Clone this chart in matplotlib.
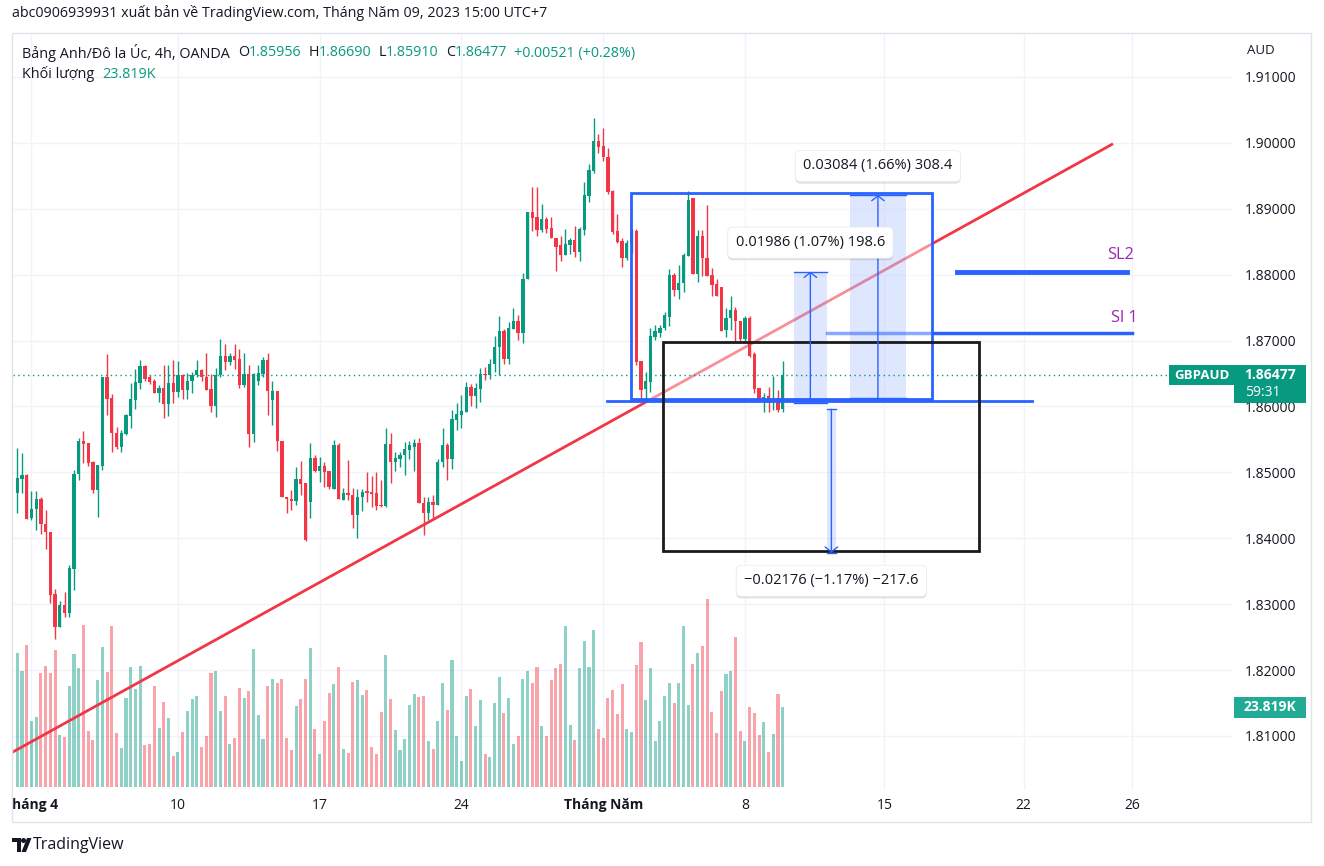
import numpy as np
import matplotlib.pyplot as plt
from matplotlib.patches import Rectangle, Polygon, Ellipse
from matplotlib.transforms import blended_transform_factory, Bbox, TransformedBbox
import matplotlib.patheffects as pe

plt.rcParams['font.family'] = ['Open Sans', 'DejaVu Sans']

# GBPAUD 4h candles
opens = [1.8469, 1.8490, 1.8496, 1.8430, 1.8444, 1.8460, 1.8422, 1.8410, 1.8315, 1.8266,
         1.8298, 1.8287, 1.8354, 1.8497, 1.8548, 1.8544, 1.8516, 1.8473, 1.8510, 1.8645,
         1.8613, 1.8560, 1.8539, 1.8558, 1.8586, 1.8610, 1.8636, 1.8661, 1.8644, 1.8639,
         1.8621, 1.8628, 1.8604, 1.8636, 1.8622, 1.8647, 1.8625, 1.8638, 1.8647, 1.8655,
         1.8645, 1.8627, 1.8601, 1.8647, 1.8676, 1.8667, 1.8677, 1.8672, 1.8633, 1.8650,
         1.8558, 1.8638, 1.8649, 1.8671, 1.8610, 1.8623, 1.8548, 1.8463, 1.8460, 1.8457,
         1.8490, 1.8484, 1.8455, 1.8522, 1.8502, 1.8510, 1.8502, 1.8475, 1.8541, 1.8458,
         1.8468, 1.8465, 1.8435, 1.8462, 1.8471, 1.8470, 1.8468, 1.8450, 1.8449, 1.8543,
         1.8516, 1.8520, 1.8527, 1.8534, 1.8539, 1.8545, 1.8454, 1.8439, 1.8455, 1.8451,
         1.8515, 1.8541, 1.8520, 1.8580, 1.8587, 1.8592, 1.8629, 1.8616, 1.8626, 1.8649,
         1.8647, 1.8664, 1.8690, 1.8714, 1.8672, 1.8718, 1.8729, 1.8711, 1.8793, 1.8895,
         1.8888, 1.8868, 1.8884, 1.8871, 1.8856, 1.8845, 1.8830, 1.8845, 1.8853, 1.8834,
         1.8868, 1.8920, 1.8958, 1.9003, 1.8995, 1.8979, 1.8927, 1.8866, 1.8851, 1.8826,
         1.8848, 1.8866, 1.8669, 1.8626, 1.8637, 1.8706, 1.8711, 1.8719, 1.8736, 1.8800,
         1.8777, 1.8787, 1.8829, 1.8916, 1.8801, 1.8858, 1.8826, 1.8800, 1.8786, 1.8782,
         1.8716, 1.8734, 1.8746, 1.8729, 1.8702, 1.8735, 1.8679, 1.8628, 1.8610, 1.8616,
         1.8610, 1.8613, 1.85956]
highs = [1.8537, 1.8529, 1.8498, 1.8471, 1.8471, 1.8462, 1.8443, 1.8410, 1.8323, 1.8305,
         1.8318, 1.8360, 1.8504, 1.8552, 1.8563, 1.8544, 1.8517, 1.8511, 1.8645, 1.8680,
         1.8619, 1.8569, 1.8564, 1.8589, 1.8636, 1.8657, 1.8670, 1.8663, 1.8647, 1.8641,
         1.8633, 1.8663, 1.8663, 1.8670, 1.8669, 1.8650, 1.8651, 1.8652, 1.8670, 1.8657,
         1.8681, 1.8649, 1.8659, 1.8703, 1.8695, 1.8681, 1.8695, 1.8687, 1.8681, 1.8663,
         1.8651, 1.8663, 1.8675, 1.8681, 1.8639, 1.8623, 1.8548, 1.8463, 1.8473, 1.8508,
         1.8517, 1.8484, 1.8545, 1.8527, 1.8523, 1.8515, 1.8502, 1.8549, 1.8544, 1.8476,
         1.8519, 1.8476, 1.8474, 1.8474, 1.8501, 1.8494, 1.8501, 1.8488, 1.8567, 1.8560,
         1.8531, 1.8531, 1.8546, 1.8547, 1.8551, 1.8552, 1.8463, 1.8463, 1.8466, 1.8521,
         1.8568, 1.8544, 1.8594, 1.8606, 1.8618, 1.8637, 1.8634, 1.8636, 1.8658, 1.8660,
         1.8672, 1.8707, 1.8737, 1.8718, 1.8728, 1.8750, 1.8739, 1.8802, 1.8895, 1.8933,
         1.8933, 1.8907, 1.8887, 1.8887, 1.8856, 1.8858, 1.8870, 1.8855, 1.8874, 1.8872,
         1.8941, 1.8968, 1.9037, 1.9014, 1.9022, 1.8992, 1.8928, 1.8892, 1.8856, 1.8853,
         1.8870, 1.8870, 1.8669, 1.8653, 1.8719, 1.8724, 1.8724, 1.8744, 1.8809, 1.8802,
         1.8815, 1.8833, 1.8927, 1.8917, 1.8868, 1.8868, 1.8906, 1.8810, 1.8794, 1.8782,
         1.8749, 1.8767, 1.8751, 1.8729, 1.8738, 1.8738, 1.8682, 1.8628, 1.8620, 1.8630,
         1.8646, 1.8625, 1.86690]
lows = [1.8439, 1.8469, 1.8429, 1.8428, 1.8412, 1.8407, 1.8384, 1.8302, 1.8247, 1.8266,
        1.8281, 1.8280, 1.8321, 1.8489, 1.8514, 1.8510, 1.8469, 1.8433, 1.8504, 1.8587,
        1.8531, 1.8535, 1.8531, 1.8557, 1.8567, 1.8596, 1.8627, 1.8639, 1.8634, 1.8621,
        1.8607, 1.8583, 1.8585, 1.8605, 1.8615, 1.8611, 1.8612, 1.8620, 1.8645, 1.8638,
        1.8625, 1.8592, 1.8584, 1.8645, 1.8655, 1.8663, 1.8657, 1.8628, 1.8630, 1.8538,
        1.8546, 1.8633, 1.8645, 1.8587, 1.8572, 1.8533, 1.8462, 1.8438, 1.8443, 1.8450,
        1.8465, 1.8396, 1.8430, 1.8500, 1.8486, 1.8478, 1.8475, 1.8474, 1.8459, 1.8458,
        1.8458, 1.8416, 1.8401, 1.8442, 1.8455, 1.8448, 1.8443, 1.8448, 1.8448, 1.8484,
        1.8502, 1.8508, 1.8496, 1.8520, 1.8502, 1.8453, 1.8405, 1.8428, 1.8430, 1.8451,
        1.8508, 1.8489, 1.8505, 1.8564, 1.8568, 1.8592, 1.8600, 1.8597, 1.8607, 1.8640,
        1.8641, 1.8652, 1.8648, 1.8665, 1.8664, 1.8718, 1.8701, 1.8697, 1.8793, 1.8866,
        1.8858, 1.8865, 1.8863, 1.8855, 1.8806, 1.8820, 1.8830, 1.8832, 1.8827, 1.8820,
        1.8860, 1.8911, 1.8954, 1.8985, 1.8973, 1.8923, 1.8862, 1.8848, 1.8811, 1.8822,
        1.8833, 1.8663, 1.8612, 1.8612, 1.8622, 1.8701, 1.8706, 1.8716, 1.8722, 1.8767,
        1.8763, 1.8774, 1.8829, 1.8801, 1.8789, 1.8798, 1.8798, 1.8767, 1.8767, 1.8715,
        1.8706, 1.8716, 1.8700, 1.8700, 1.8700, 1.8675, 1.8620, 1.8611, 1.8592, 1.8592,
        1.8594, 1.8592, 1.85910]
closes = [1.8491, 1.8496, 1.8429, 1.8444, 1.8460, 1.8421, 1.8409, 1.8314, 1.8266, 1.8298,
          1.8287, 1.8355, 1.8498, 1.8548, 1.8543, 1.8514, 1.8473, 1.8511, 1.8645, 1.8611,
          1.8559, 1.8539, 1.8560, 1.8587, 1.8611, 1.8637, 1.8661, 1.8642, 1.8637, 1.8621,
          1.8628, 1.8604, 1.8636, 1.8622, 1.8647, 1.8625, 1.8639, 1.8648, 1.8655, 1.8644,
          1.8625, 1.8601, 1.8648, 1.8676, 1.8667, 1.8677, 1.8671, 1.8633, 1.8650, 1.8558,
          1.8650, 1.8651, 1.8671, 1.8623, 1.8623, 1.8547, 1.8462, 1.8459, 1.8457, 1.8490,
          1.8482, 1.8397, 1.8522, 1.8502, 1.8510, 1.8501, 1.8478, 1.8541, 1.8459, 1.8468,
          1.8465, 1.8435, 1.8463, 1.8470, 1.8468, 1.8467, 1.8449, 1.8449, 1.8543, 1.8516,
          1.8522, 1.8527, 1.8536, 1.8541, 1.8545, 1.8453, 1.8439, 1.8455, 1.8451, 1.8515,
          1.8541, 1.8520, 1.8581, 1.8588, 1.8593, 1.8629, 1.8616, 1.8628, 1.8649, 1.8647,
          1.8665, 1.8690, 1.8714, 1.8672, 1.8719, 1.8729, 1.8711, 1.8794, 1.8895, 1.8886,
          1.8868, 1.8884, 1.8870, 1.8855, 1.8842, 1.8830, 1.8846, 1.8853, 1.8834, 1.8869,
          1.8921, 1.8959, 1.9003, 1.8994, 1.8979, 1.8926, 1.8865, 1.8850, 1.8826, 1.8848,
          1.8866, 1.8668, 1.8625, 1.8638, 1.8707, 1.8714, 1.8719, 1.8739, 1.8800, 1.8777,
          1.8788, 1.8830, 1.8913, 1.8801, 1.8858, 1.8825, 1.8798, 1.8784, 1.8767, 1.8715,
          1.8734, 1.8746, 1.8729, 1.8702, 1.8735, 1.8677, 1.8626, 1.8611, 1.8615, 1.8606,
          1.8613, 1.8595, 1.86477]
# volume in thousands
volumes = [40.1, 34.7, 42.4, 19.6, 20.8, 34.0, 36.1, 34.0, 40.9, 15.4,
           14.8, 30.1, 39.7, 35.5, 48.4, 16.6, 13.9, 31.9, 41.8, 34.4,
           48.1, 16.0, 11.8, 26.5, 35.8, 29.2, 36.1, 12.7, 13.0, 30.1,
           17.5, 25.3, 20.5, 9.4, 10.6, 16.3, 22.6, 26.2, 27.1, 12.1,
           15.1, 34.0, 34.6, 22.6, 27.1, 13.0, 14.5, 29.5, 26.5, 28.6,
           41.2, 21.4, 14.2, 30.1, 32.2, 31.0, 32.2, 14.5, 11.2, 24.1,
           26.2, 32.2, 41.5, 17.2, 10.0, 19.6, 28.0, 30.7, 35.8, 11.5,
           10.3, 31.3, 31.9, 27.4, 28.9, 12.1, 10.0, 22.3, 39.4, 26.2,
           16.9, 11.2, 14.2, 24.4, 27.7, 26.8, 27.1, 13.6, 11.5, 19.6,
           31.0, 22.9, 37.9, 15.1, 7.9, 27.1, 29.2, 18.1, 25.9, 10.0,
           9.1, 25.0, 32.8, 22.0, 26.5, 13.0, 15.1, 32.2, 34.6, 31.0,
           35.8, 18.1, 15.1, 31.9, 35.5, 36.7, 48.1, 18.4, 13.9, 35.5,
           43.6, 35.8, 46.9, 17.2, 14.5, 26.5, 28.9, 21.7, 30.7, 17.2,
           16.3, 36.4, 43.3, 25.9, 35.5, 13.6, 19.6, 27.1, 31.0, 25.0,
           31.0, 48.1, 24.4, 36.7, 40.0, 42.1, 56.2, 22.3, 16.0, 28.6,
           33.7, 34.6, 44.8, 16.6, 13.6, 23.8, 22.0, 15.4, 19.4, 10.6,
           15.8, 27.7, 23.819]

price_ticks = [1.81, 1.82, 1.83, 1.84, 1.85, 1.86, 1.87, 1.88, 1.89, 1.90, 1.91]
date_tick_pos = [3, 34, 64, 94, 124, 154, 183.5, 213, 236]
date_tick_labels = ['Tháng 4', '10', '17', '24', 'Tháng Năm', '8', '15', '22', '26']

# drawings (bar index, price)
trend_x = [-1.12, 231.9]
trend_y = [1.8075, 1.89986]
blue_box = (129.9, 193.6, 1.86109, 1.89244)
black_box = (136.7, 203.6, 1.83807, 1.86983)
base_line = (124.8, 214.7, 1.8608)
sl2_line = (198.8, 234.8, 1.8804)
sl1_line = (171.3, 235.9, 1.8711)
measures = [(164.4, 171.3, 1.86060, 1.88046),
            (176.2, 188.1, 1.86125, 1.89209),
            (171.3, 173.3, 1.85956, 1.83780)]

GREEN = '#089981'
RED = '#f23645'
BLUE = '#2962ff'
TXT = '#131722'

W, H = 1324, 866
fig = plt.figure(figsize=(W / 100, H / 100), dpi=100)
fig.patch.set_facecolor('white')

def P(x, y):
    return (x / W, 1 - y / H)

pl, pr, pt, pb = 13, 1233, 34, 790
rect = [pl / W, 1 - pb / H, (pr - pl) / W, (pb - pt) / H]
ax_vol = fig.add_axes(rect)
ax = fig.add_axes(rect)
ax.patch.set_alpha(0)

xlim = (-0.91, 257.3)
ylim = (1.80180, 1.91652)
vlim = (-0.9, 225.1)
for a in (ax, ax_vol):
    a.set_xlim(*xlim)
    for s in a.spines.values():
        s.set_visible(False)
ax.set_ylim(*ylim)
ax_vol.set_ylim(*vlim)
ax_vol.set_xticks([])
ax_vol.set_yticks([])

# grid behind the volume bars
ytrans = blended_transform_factory(ax_vol.transAxes, ax.transData)
for p in price_ticks:
    ax_vol.plot([0, 1], [p, p], transform=ytrans, color='#f0f3fa', lw=1, zorder=0)
for xp in date_tick_pos:
    ax_vol.axvline(xp, color='#f0f3fa', lw=1, zorder=0)

x = np.arange(len(opens))
o = np.array(opens); h = np.array(highs); l = np.array(lows); c = np.array(closes)
up = c >= o
cols = np.where(up, GREEN, RED)

ax_vol.bar(x, volumes, width=0.65, color=cols, alpha=0.45, linewidth=0, zorder=1)

ax.vlines(x, l, h, colors=cols, lw=1, zorder=3)
body = np.maximum(np.abs(c - o), 0.00012)
ax.bar(x, body, bottom=np.minimum(o, c), width=0.7, color=cols, linewidth=0, zorder=3)

# trend line and lines behind the box tint
ax.plot(trend_x, trend_y, color=RED, lw=2, zorder=2, solid_capstyle='butt')
ax.plot(sl1_line[:2], [sl1_line[2]] * 2, color=BLUE, lw=2.5, zorder=2)
ax.plot(sl2_line[:2], [sl2_line[2]] * 2, color=BLUE, lw=3.5, zorder=4)
ax.plot(base_line[:2], [base_line[2]] * 2, color=BLUE, lw=2, zorder=4)

bx0, bx1, by0, by1 = blue_box
ax.add_patch(Rectangle((bx0, by0), bx1 - bx0, by1 - by0, fc=(1, 1, 1, 0.45), lw=0, zorder=2.5))
ax.add_patch(Rectangle((bx0, by0), bx1 - bx0, by1 - by0, fill=False, ec=BLUE, lw=2, zorder=4))
kx0, kx1, ky0, ky1 = black_box
ax.add_patch(Rectangle((kx0, ky0), kx1 - kx0, ky1 - ky0, fill=False, ec='#1b1b1b', lw=2, zorder=4))

ax.axhline(closes[-1], color=GREEN, lw=1, ls=(0, (1, 2.5)), zorder=3)

# price range measurements
for i, (mx0, mx1, p0, p1) in enumerate(measures):
    lo, hi = min(p0, p1), max(p0, p1)
    ax.add_patch(Rectangle((mx0, lo), mx1 - mx0, hi - lo, fc=BLUE, alpha=0.15, lw=0, zorder=2.6))
    ax.plot([mx0, mx1], [p0, p0], color=BLUE, lw=1, zorder=4)
    ax.plot([mx0, mx1], [p1, p1], color=BLUE, lw=1, zorder=4)
    xc = (mx0 + mx1) / 2
    ax.annotate('', xy=(xc, p1), xytext=(xc, p0),
                arrowprops=dict(arrowstyle='->,head_length=0.35,head_width=0.45',
                                color=BLUE, lw=1, shrinkA=0, shrinkB=0), zorder=4)
    d = p1 - p0
    txt = f'{d:.5f} ({d / p0 * 100:.2f}%) {d * 10000:.1f}'.replace('-', '\u2212')
    off = 29 if d > 0 else -28
    t = ax.annotate(txt, xy=(xc, p1), xytext=(0, off), textcoords='offset pixels',
                    ha='center', va='center', fontsize=10.5, color=TXT, zorder=8,
                    bbox=dict(boxstyle='round,pad=0.55,rounding_size=0.35', fc='white',
                              ec='#ececec', lw=0.6))
    t.get_bbox_patch().set_path_effects([
        pe.SimplePatchShadow(offset=(0, -1.5), shadow_rgbFace='black', alpha=0.12),
        pe.Normal()])

ax.annotate('SL2', xy=(sl2_line[1], sl2_line[2]), xytext=(7, 17), textcoords='offset pixels',
            ha='right', va='center', fontsize=11.8, color='#9c27b0', zorder=5)
ax.annotate('Sl 1', xy=(sl1_line[1], sl1_line[2]), xytext=(6, 15), textcoords='offset pixels',
            ha='right', va='center', fontsize=11.8, color='#9c27b0', zorder=5)

# axes ticks
ax.yaxis.tick_right()
ax.set_yticks(price_ticks)
ax.yaxis.set_major_formatter(plt.FormatStrFormatter('%.5f'))
ax.tick_params(axis='y', length=0, pad=8.5, labelsize=10, labelcolor='#131722')
ax.set_xticks(date_tick_pos, date_tick_labels)
ax.tick_params(axis='x', length=0, pad=6, labelsize=10, labelcolor=TXT)
clip = TransformedBbox(Bbox.from_extents(pl / W, 0, 1, 1), fig.transFigure)
for lbl in ax.get_xticklabels():
    if lbl.get_text().startswith('Tháng'):
        lbl.set_fontweight('bold')
    lbl.set_clip_on(True)
    lbl.set_clip_box(clip)

# price scale labels
ppx = (ylim[1] - ylim[0]) / (pb - pt)
vpx = (vlim[1] - vlim[0]) / (pb - pt)
fy = blended_transform_factory(fig.transFigure, ax.transData)
fv = blended_transform_factory(fig.transFigure, ax_vol.transData)
last = closes[-1]
ax.add_patch(Rectangle((1169 / W, last - 10 * ppx), 65 / W, 20 * ppx, transform=fy,
                       fc=GREEN, lw=0, clip_on=False, zorder=6))
ax.add_patch(Rectangle((1234 / W, last - 27.5 * ppx), 72 / W, 38 * ppx, transform=fy,
                       fc=GREEN, lw=0, clip_on=False, zorder=6))
ax.text(1201.5 / W, last, 'GBPAUD', transform=fy, ha='center', va='center', color='white',
        fontsize=9.5, fontweight='bold', zorder=7, clip_on=False)
ax.text(1270 / W, last, f'{last:.5f}', transform=fy, ha='center', va='center', color='white',
        fontsize=10, fontweight='bold', zorder=7, clip_on=False)
ax.text(1245 / W, last - 17.5 * ppx, '59:31', transform=fy, ha='left', va='center',
        color='white', fontsize=10, zorder=7, clip_on=False)
ax_vol.add_patch(Rectangle((1234 / W, volumes[-1] - 10.5 * vpx), 72 / W, 21 * vpx, transform=fv,
                           fc='#22ab94', lw=0, clip_on=False, zorder=6))
ax_vol.text(1270 / W, volumes[-1], f'{volumes[-1]:.3f}K', transform=fv, ha='center', va='center',
            color='white', fontsize=10, fontweight='bold', zorder=7, clip_on=False)
fig.text(*P(1247, 50), 'AUD', ha='left', va='center', fontsize=9.5, color=TXT)

# frame
fig.add_artist(Rectangle(P(11.5, 822), (1311 - 11.5) / W, (822 - 33) / H, transform=fig.transFigure,
                         fill=False, ec='#e0e3eb', lw=1))

# header
fig.text(*P(12, 13), 'abc0906939931 xuất bản về TradingView.com, Tháng Năm 09, 2023 15:00 UTC+7',
         ha='left', va='center', fontsize=10.3, color=TXT)
chg = closes[-1] - opens[-1]
segs = [('O', TXT, 8), (f'{opens[-1]:.5f}', GREEN, 0), ('H', TXT, 7), (f'{highs[-1]:.5f}', GREEN, 0),
        ('L', TXT, 7), (f'{lows[-1]:.5f}', GREEN, 0), ('C', TXT, 7), (f'{closes[-1]:.5f}', GREEN, 0),
        (f'+{chg:.5f} (+{chg / opens[-1] * 100:.2f}%)', GREEN, 7)]
t = fig.text(*P(22, 53), 'Bảng Anh/Đô la Úc, 4h, OANDA', ha='left', va='center', fontsize=10.4, color=TXT)
for s, col, gap in segs:
    t = ax.annotate(s, xy=(1, 0.5), xycoords=t, xytext=(gap, 0), textcoords='offset pixels',
                    ha='left', va='center', fontsize=10.3, color=col, annotation_clip=False)
t = fig.text(*P(22, 74), 'Khối lượng', ha='left', va='center', fontsize=10.4, color=TXT)
ax.annotate(f'{volumes[-1]:.3f}K', xy=(1, 0.5), xycoords=t, xytext=(8, 0), textcoords='offset pixels',
            ha='left', va='center', fontsize=10.4, color=GREEN, annotation_clip=False)

# TradingView logo
fig.add_artist(Polygon([P(12, 838), P(20.5, 838), P(20.5, 852), P(16.5, 852), P(16.5, 842), P(12, 842)],
                       closed=True, fc=TXT, lw=0, transform=fig.transFigure))
fig.add_artist(Ellipse(P(23.5, 840.5), 5 / W, 5 / H, fc=TXT, lw=0, transform=fig.transFigure))
fig.add_artist(Polygon([P(27, 838), P(31.5, 838), P(26, 852), P(21.5, 852)],
                       closed=True, fc=TXT, lw=0, transform=fig.transFigure))
fig.text(*P(33, 845), 'TradingView', ha='left', va='center', fontsize=11.5, color=TXT)

fig.savefig('out.png', dpi=100, facecolor='white')
